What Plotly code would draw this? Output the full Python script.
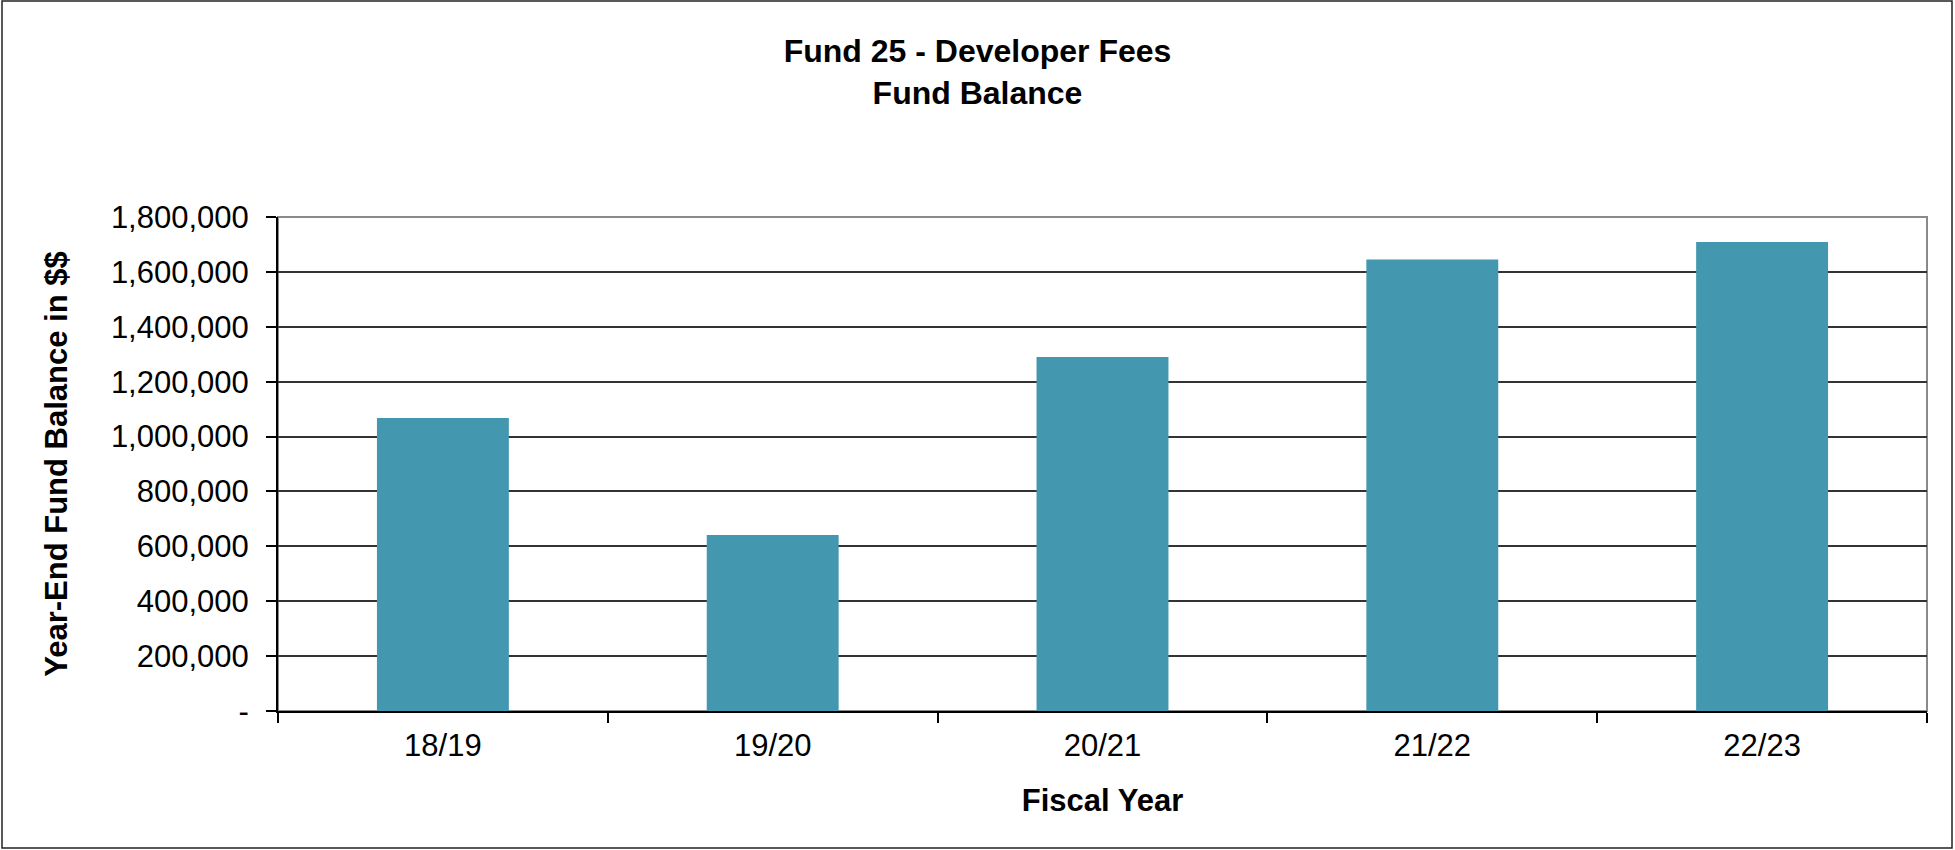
import plotly.graph_objects as go

fiscal_years = ["18/19", "19/20", "20/21", "21/22", "22/23"]
fund_balance = [1068000, 641000, 1290000, 1645000, 1709000]
y_tick_values = [0, 200000, 400000, 600000, 800000, 1000000, 1200000, 1400000, 1600000, 1800000]
y_tick_labels = ["-", "200,000", "400,000", "600,000", "800,000", "1,000,000",
                 "1,200,000", "1,400,000", "1,600,000", "1,800,000"]

W, H = 1955, 850
L, R, T, B = 278, 28, 217, 139
pw = W - L - R
ph = H - T - B

FONT = "Liberation Sans, Arial, sans-serif"

fig = go.Figure()
fig.add_trace(go.Bar(
    x=fiscal_years, y=fund_balance,
    marker=dict(color="#4398B0", line=dict(width=0)),
    width=0.4,
))

fig.update_layout(
    width=W, height=H,
    margin=dict(l=L, r=R, t=T, b=B, autoexpand=False),
    paper_bgcolor="white", plot_bgcolor="white",
    showlegend=False,
    font=dict(family=FONT, color="black", size=31),
    title=dict(
        text="<b>Fund 25 - Developer Fees<br>Fund Balance</b>",
        x=0.5, xref="container", xanchor="center",
        y=1 - 62 / H, yref="container", yanchor="top",
        font=dict(family=FONT, size=32, color="black"),
    ),
    bargap=0.6,
)

fig.update_xaxes(
    type="category",
    showline=True, linecolor="black", linewidth=2,
    ticks="outside", ticklen=10, tickwidth=1.5, tickcolor="black",
    tickson="boundaries",
    showgrid=False,
    tickfont=dict(family=FONT, size=31),
    ticklabelstandoff=6,
    title=dict(text="<b>Fiscal Year</b>", font=dict(family=FONT, size=31), standoff=27),
    range=[-0.5, 4.5],
)

fig.update_yaxes(
    range=[0, 1800000],
    tickvals=y_tick_values, ticktext=y_tick_labels,
    showline=True, linecolor="black", linewidth=2,
    ticks="outside", ticklen=10, tickwidth=1.5, tickcolor="black",
    showgrid=True, gridcolor="#333333", gridwidth=1.6,
    zeroline=False,
    tickfont=dict(family=FONT, size=31),
    ticklabelstandoff=11,
    title=dict(text="<b>Year-End Fund Balance in $$</b>", font=dict(family=FONT, size=31), standoff=34),
)

# plot area frame (grey top/right)
fig.add_shape(type="rect", xref="paper", yref="paper", x0=0, x1=1, y0=0, y1=1,
              line=dict(color="#8a8a8a", width=2), layer="below")

# outer chart border
fig.add_shape(type="rect", xref="paper", yref="paper",
              x0=(2 - L) / pw, x1=(W - 3 - L) / pw,
              y0=-(H - 2 - (H - B)) / ph, y1=(T - 1) / ph + 1,
              line=dict(color="#222222", width=1.5), layer="above")

fig.write_html("out.html", config={"displayModeBar": False},
               post_script="document.body.style.margin='0';document.body.style.overflow='hidden';")
